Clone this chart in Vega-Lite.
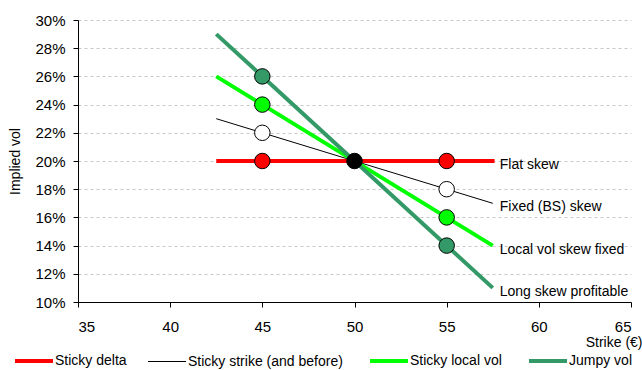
{
  "$schema": "https://vega.github.io/schema/vega-lite/v6.json",
  "width": 553,
  "height": 282,
  "autosize": "none",
  "padding": {"left": 78, "top": 20, "right": 11, "bottom": 68},
  "background": "white",
  "config": {
    "font": "Liberation Sans",
    "view": {"stroke": null},
    "axis": {"labelFont": "Liberation Sans", "titleFont": "Liberation Sans", "labelColor": "#000", "titleColor": "#000", "domainColor": "#000", "tickColor": "#000", "titleFontWeight": "normal", "labelOverlap": false},
    "legend": {"labelFont": "Liberation Sans"}
  },
  "datasets": {
    "lines": [
      {"series": "Sticky delta", "strike": 42.5, "vol": 0.20},
      {"series": "Sticky delta", "strike": 57.6, "vol": 0.20},
      {"series": "Sticky strike (and before)", "strike": 42.5, "vol": 0.23},
      {"series": "Sticky strike (and before)", "strike": 57.5, "vol": 0.17},
      {"series": "Sticky local vol", "strike": 42.5, "vol": 0.26},
      {"series": "Sticky local vol", "strike": 57.5, "vol": 0.14},
      {"series": "Jumpy vol", "strike": 42.5, "vol": 0.29},
      {"series": "Jumpy vol", "strike": 57.5, "vol": 0.11}
    ],
    "points": [
      {"kind": "Sticky delta", "strike": 45, "vol": 0.20},
      {"kind": "Sticky strike (and before)", "strike": 45, "vol": 0.22},
      {"kind": "Sticky local vol", "strike": 45, "vol": 0.24},
      {"kind": "Jumpy vol", "strike": 45, "vol": 0.26},
      {"kind": "ATM", "strike": 50, "vol": 0.20},
      {"kind": "Sticky delta", "strike": 55, "vol": 0.20},
      {"kind": "Sticky strike (and before)", "strike": 55, "vol": 0.18},
      {"kind": "Sticky local vol", "strike": 55, "vol": 0.16},
      {"kind": "Jumpy vol", "strike": 55, "vol": 0.14}
    ],
    "labels": [
      {"label": "Flat skew", "strike": 57.5, "vol": 0.20},
      {"label": "Fixed (BS) skew", "strike": 57.5, "vol": 0.17},
      {"label": "Local vol skew  fixed", "strike": 57.5, "vol": 0.14},
      {"label": "Long skew  profitable", "strike": 57.5, "vol": 0.11}
    ]
  },
  "encoding": {
    "x": {
      "field": "strike", "type": "quantitative",
      "scale": {"domain": [35, 65], "nice": false, "zero": false},
      "axis": {
        "values": [35, 40, 45, 50, 55, 60, 65],
        "grid": false, "tickSize": 5, "labelFontSize": 15, "labelPadding": 12,
        "title": "Strike (€)", "titleFontSize": 14, "titleAlign": "right", "titleAnchor": "end",
        "titleX": 564, "titleY": 40, "titleBaseline": "middle"
      }
    },
    "y": {
      "field": "vol", "type": "quantitative",
      "scale": {"domain": [0.10, 0.30], "nice": false, "zero": false},
      "axis": {
        "values": [0.10, 0.12, 0.14, 0.16, 0.18, 0.20, 0.22, 0.24, 0.26, 0.28, 0.30],
        "format": ".0%", "grid": true, "gridColor": "#c8c8c8", "gridDash": [3, 3], "gridWidth": 1,
        "tickSize": 5, "labelFontSize": 15, "labelPadding": 8, "labelOverlap": false,
        "title": "Implied vol", "titleFontSize": 14, "titleX": -63, "titleY": 141,
        "titleAngle": -90, "titleAlign": "center", "titleBaseline": "middle"
      }
    }
  },
  "layer": [
    {
      "data": {"name": "lines"},
      "mark": {"type": "line", "strokeCap": "butt"},
      "encoding": {
        "color": {
          "field": "series", "type": "nominal",
          "scale": {
            "domain": ["Sticky delta", "Sticky strike (and before)", "Sticky local vol", "Jumpy vol"],
            "range": ["#ff0000", "#000000", "#00ff00", "#339966"]
          },
          "legend": {
            "title": null, "orient": "none", "legendX": -51, "legendY": 334,
            "direction": "horizontal", "columns": 4,
            "symbolType": "stroke", "symbolSize": 1444,
            "labelFontSize": 14, "labelOffset": 14, "columnPadding": 19, "labelLimit": 300,
            "encode": {"symbols": {"update": {"strokeWidth": {"signal": "datum.value === 'Sticky strike (and before)' ? 1 : 4"}}}}
          }
        },
        "strokeWidth": {
          "field": "series", "type": "nominal",
          "scale": {
            "type": "ordinal",
            "domain": ["Sticky delta", "Sticky strike (and before)", "Sticky local vol", "Jumpy vol"],
            "range": [4, 1, 4, 4]
          },
          "legend": null
        },
        "order": {"field": "strike"}
      }
    },
    {
      "data": {"name": "points"},
      "mark": {"type": "point", "shape": "circle", "filled": true, "size": 240, "stroke": "#000", "strokeWidth": 1, "opacity": 1},
      "encoding": {
        "fill": {
          "field": "kind", "type": "nominal",
          "scale": {
            "domain": ["Sticky delta", "Sticky strike (and before)", "Sticky local vol", "Jumpy vol", "ATM"],
            "range": ["#ff0000", "#ffffff", "#00ff00", "#339966", "#000000"]
          },
          "legend": null
        }
      }
    },
    {
      "data": {"name": "labels"},
      "mark": {"type": "text", "align": "left", "baseline": "middle", "dx": 7, "dy": 4, "fontSize": 14, "color": "#000"},
      "encoding": {
        "text": {"field": "label"}
      }
    }
  ],
  "resolve": {"scale": {"color": "independent"}}
}
